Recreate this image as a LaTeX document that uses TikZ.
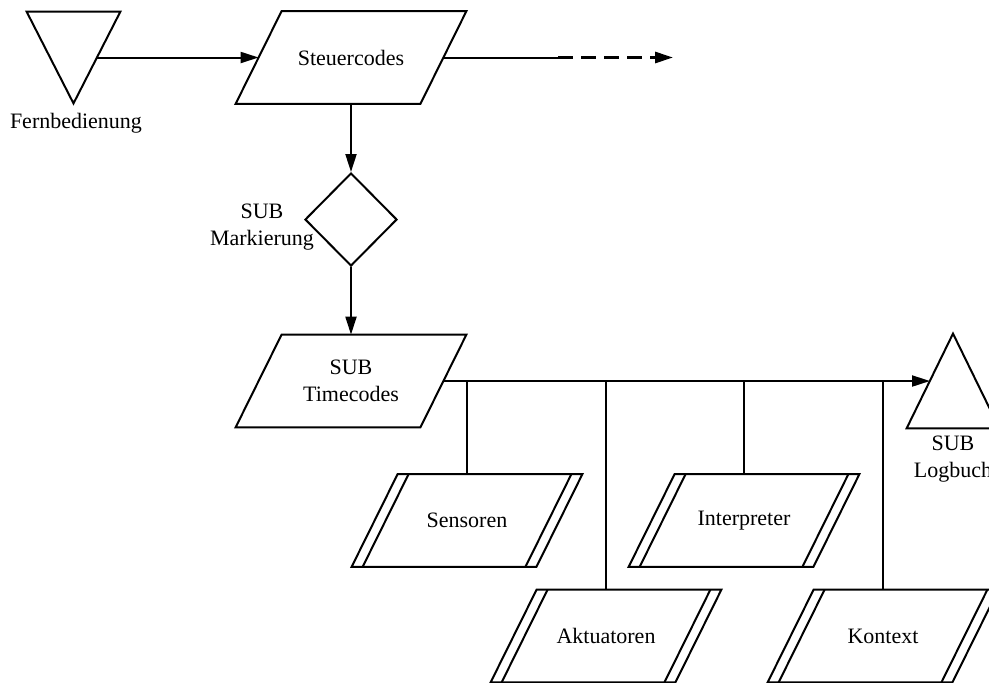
\documentclass[tikz,border=0pt]{standalone}
\usepackage{fontspec}
\setmainfont{Liberation Serif}
\usetikzlibrary{calc,shapes.geometric,arrows.meta}

% parallelogram drawn around a rectangular node: top edge shifted right, bottom edge shifted left
\newcommand\paragram[1]{%
  \draw[outline] ($(#1.north west)+(23,0)$) -- ($(#1.north east)+(23,0)$)
    -- ($(#1.south east)+(-23,0)$) -- ($(#1.south west)+(-23,0)$) -- cycle;}
% inner bars of the double-sided parallelograms
\newcommand\dblbars[1]{%
  \draw[outline] ($(#1.north west)+(34,0)$) -- ($(#1.south west)+(-12,0)$);
  \draw[outline] ($(#1.north east)+(12,0)$) -- ($(#1.south east)+(-34,0)$);}

\begin{document}
\begin{tikzpicture}[x=0.5pt,y=-0.5pt,
  font=\fontsize{11}{13.5}\selectfont,
  box/.style={draw=none,inner sep=0pt,minimum width=92pt,minimum height=46pt,align=center},
  outline/.style={draw=black,line width=1pt,line join=miter},
  conn/.style={draw=black,line width=1pt},
  arr/.style={conn,-{Triangle[length=9pt,width=5.5pt]}},
  label/.style={align=center,inner sep=0pt}]

\useasboundingbox (0,0) rectangle (989,682);
\fill[white] (0,0) rectangle (989,682);
\clip (0,0) rectangle (989,682);

% input triangle (pointing down) and output triangle (pointing up)
\node[draw=none,inner sep=0pt,minimum width=46.5pt,minimum height=45.5pt] (fb) at (73.5,57.5) {};
\draw[outline] (fb.north west) -- (fb.north east) -- (fb.south) -- cycle;
\coordinate (fbout) at ($(fb.center)+(23.25,0)$);
\node[label] (fbl) at (76,123) {Fernbedienung};

\node[draw=none,inner sep=0pt,minimum width=46pt,minimum height=47pt] (lb) at (953,381) {};
\draw[outline] (lb.south west) -- (lb.south east) -- (lb.north) -- cycle;
\coordinate (lbin) at ($(lb.center)+(-23,0)$);
\node[label] (lbl) at (953,459) {SUB\\Logbuch};

% data nodes
\node[box] (st) at (351,57.5) {Steuercodes};
\node[box] (tc) at (351,381) {SUB\\Timecodes};
\node[box] (sen) at (467,520.5) {Sensoren};
\node[box] (int) at (744,520.5) {Interpreter};
\node[box] (akt) at (606,636) {Aktuatoren};
\node[box] (kon) at (883,636) {Kontext};
\foreach \n in {st,tc,sen,int,akt,kon} {\paragram{\n}}
\foreach \n in {sen,int,akt,kon} {\dblbars{\n}}

% decision diamond
\node[diamond,outline,inner sep=0pt,minimum width=46pt,minimum height=46.5pt] (mk) at (351,219.5) {};
\node[label] (mkl) at (262,227) {SUB\\Markierung};

% connectors
\draw[arr] (fbout) -- (st.west);
\coordinate (dashstart) at (558,57.5);
\coordinate (dashend) at (673,57.5);
\draw[conn] (st.east) -- (dashstart);
\draw[arr,line width=1.5pt,dash pattern=on 7.5pt off 4pt] (dashstart) -- (dashend);
\draw[arr] (st.south) -- (mk.north);
\draw[arr] (mk.south) -- (tc.north);
\draw[arr] (tc.east) -- (lbin);
\foreach \n in {sen,int,akt,kon} {\draw[conn] (\n.north) -- (\n.north |- tc.east);}

\end{tikzpicture}
\end{document}
